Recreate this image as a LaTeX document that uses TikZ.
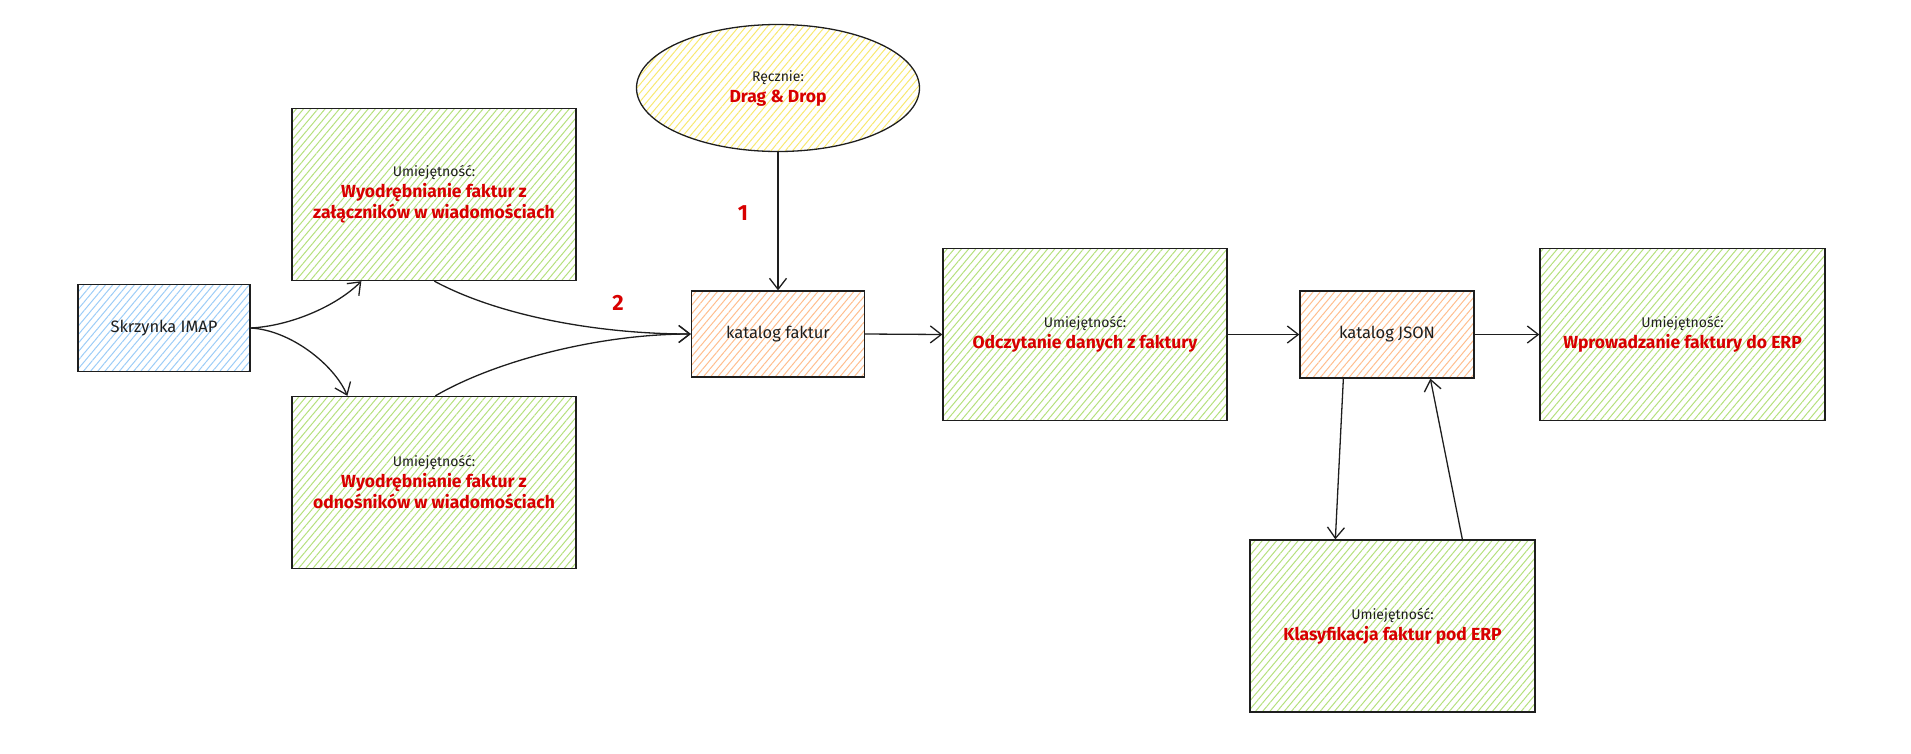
\documentclass[tikz,border=0pt]{standalone}
\usepackage{fontspec}
\setmainfont{Fira Sans}
\usetikzlibrary{shapes.geometric,arrows.meta,patterns.meta}
\definecolor{ink}{HTML}{1E1E1E}
\definecolor{skillred}{HTML}{D80000}
\definecolor{hgreen}{HTML}{B5E07E}
\definecolor{hblue}{HTML}{9CCCF7}
\definecolor{horange}{HTML}{FFBE8E}
\definecolor{hyellow}{HTML}{F8E870}
\newcommand\skilltxt[1]{{\fontsize{17.5}{21}\selectfont\bfseries\color{skillred}#1}}
\tikzset{
  base/.style={draw=ink, line width=1.3pt, inner sep=0pt, align=center,
    font=\fontsize{14}{21}\selectfont, text=ink},
  hatch/.style={pattern={Lines[angle=50,distance=5.5pt,line width=1pt]}, pattern color=#1},
  greenbox/.style={base, hatch=hgreen, minimum width=284pt, minimum height=172pt},
  bluebox/.style={base, hatch=hblue, minimum width=172pt, minimum height=87pt, font=\fontsize{16.5}{20}\selectfont},
  orangebox/.style={base, hatch=horange, minimum width=173pt, minimum height=86pt, font=\fontsize{16.5}{20}\selectfont},
  yellowell/.style={base, ellipse, hatch=hyellow, minimum width=283pt, minimum height=127pt},
  numlabel/.style={inner sep=0pt, font=\fontsize{22}{22}\selectfont\bfseries, text=skillred},
  conn/.style={draw=ink, line width=1.3pt, -{Straight Barb[length=11pt,width=17pt,line width=1.3pt]}}
}
\begin{document}
\begin{tikzpicture}[x=1pt,y=-1pt]
\useasboundingbox (0,0) rectangle (1911,753);
\node[bluebox] (imap) at (164,328) {Skrzynka IMAP};
\node[greenbox] (g1) at (434,194.5) {Umiejętność:\\ \skilltxt{Wyodrębnianie faktur z}\\ \skilltxt{załączników w wiadomościach}};
\node[greenbox] (g2) at (434,482.5) {Umiejętność:\\ \skilltxt{Wyodrębnianie faktur z}\\ \skilltxt{odnośników w wiadomościach}};
\node[yellowell] (hand) at (778,88) {Ręcznie:\\ \skilltxt{Drag \& Drop}};
\node[orangebox] (kf) at (778,334) {katalog faktur};
\node[greenbox] (odc) at (1085,334.5) {Umiejętność:\\ \skilltxt{Odczytanie danych z faktury}};
\node[orangebox, minimum width=174pt, minimum height=87pt] (json) at (1387,334.5) {katalog JSON};
\node[greenbox, minimum width=285pt] (wpr) at (1682.5,334.5) {Umiejętność:\\ \skilltxt{Wprowadzanie faktury do ERP}};
\node[greenbox, minimum width=285pt] (kla) at (1392.5,626) {Umiejętność:\\ \skilltxt{Klasyfikacja faktur pod ERP}};
\node[numlabel] (n1) at (743,213) {1};
\node[numlabel] (n2) at (618,303) {2};

\draw[conn] (imap.east) .. controls +(40,-2) and +(-25,25) .. ([xshift=70pt]g1.south west);
\draw[conn] (imap.east) .. controls +(40,2) and +(-13,-31) .. ([xshift=56pt]g2.north west);
\draw[conn] ([xshift=143pt]g1.south west) .. controls +(65,35) and +(-92,0) .. (kf.west);
\draw[conn] ([xshift=144pt]g2.north west) .. controls +(60,-35) and +(-92,0) .. (kf.west);
\draw[conn] (hand.south) -- (kf.north);
\draw[conn] (kf.east) -- (odc.west);
\draw[conn] (odc.east) -- (json.west);
\draw[conn] (json.east) -- (wpr.west);
\draw[conn] ([xshift=44pt]json.south west) -- ([xshift=86pt]kla.north west);
\draw[conn] ([xshift=213pt]kla.north west) -- ([xshift=131pt]json.south west);
\end{tikzpicture}
\end{document}
